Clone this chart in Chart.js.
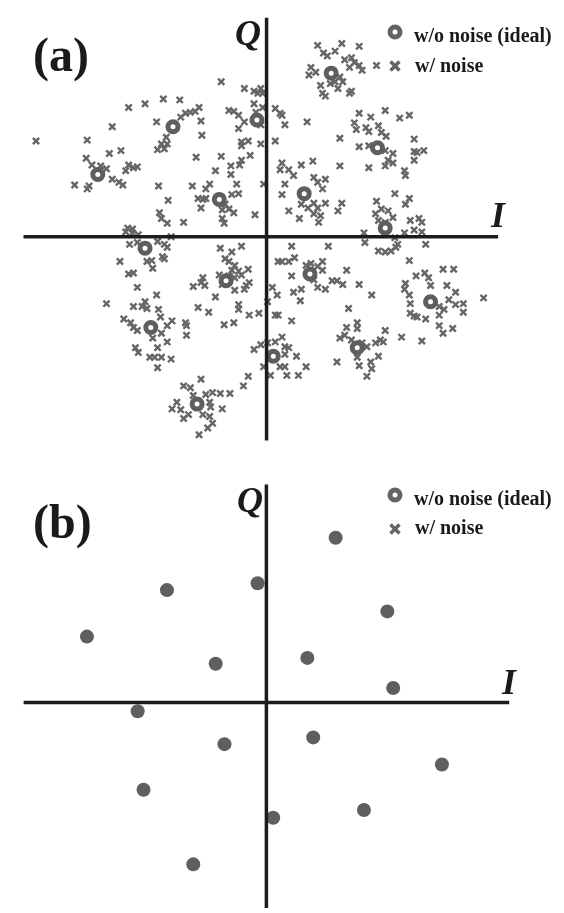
<!DOCTYPE html>
<html>
<head>
<meta charset="utf-8">
<script src="https://cdn.jsdelivr.net/npm/chart.js@4.4.1/dist/chart.umd.min.js"></script>
<style>
html,body{margin:0;padding:0;background:#fff;}
#page{position:relative;width:564px;height:913px;overflow:hidden;}
.panel{position:absolute;left:0;width:564px;}
.txt{position:absolute;font-family:"Liberation Serif","Times New Roman",serif;font-weight:bold;color:#1a1a1a;line-height:1;white-space:nowrap;}
.big{font-size:48px;}
.ax{font-size:36px;font-style:italic;}
.leg{font-size:20px;}
</style>
</head>
<body>
<div id="page">
<div class="panel" style="top:0;height:460px;"><canvas id="chartA" width="564" height="460"></canvas></div>
<div class="panel" style="top:460px;height:453px;"><canvas id="chartB" width="564" height="453"></canvas></div>

<div class="txt big" style="left:33px;top:31px;">(a)</div>
<div class="txt ax" style="left:235px;top:15px;">Q</div>
<div class="txt ax" style="left:491px;top:197px;">I</div>
<div class="txt leg" style="left:414px;top:25px;">w/o noise (ideal)</div>
<div class="txt leg" style="left:415px;top:55px;">w/ noise</div>

<div class="txt big" style="left:33px;top:498px;">(b)</div>
<div class="txt ax" style="left:237px;top:482px;">Q</div>
<div class="txt ax" style="left:502px;top:664px;">I</div>
<div class="txt leg" style="left:414px;top:488px;">w/o noise (ideal)</div>
<div class="txt leg" style="left:415px;top:517px;">w/ noise</div>
</div>

<script>
// ---- data: [I, Q] pairs ----

// (a) ideal constellation points
const idealA = [
[0.67,1.71],[-0.97,1.15],[-0.10,1.22],[1.15,0.93],
[-1.75,0.65],[-0.49,0.39],[0.39,0.45],[1.23,0.09],
[-1.26,-0.12],[-0.42,-0.46],[0.45,-0.39],[1.70,-0.68],
[-1.20,-0.95],[0.07,-1.25],[0.94,-1.16],[-0.72,-1.75]
];

// (a) received points with noise
const noisyA = [
[-0.47,1.62],[-0.23,1.55],[-0.13,1.52],[-0.09,1.50],[-0.04,1.50],[-0.06,1.55],
[-1.43,1.35],[-1.26,1.39],[-1.07,1.44],[-0.90,1.43],[-0.70,1.35],[-0.74,1.31],
[-0.79,1.30],[-0.84,1.29],[-0.89,1.25],[-0.68,1.21],[-0.67,1.06],[-1.14,1.20],
[-1.60,1.15],[-0.39,1.32],[-0.34,1.31],[-0.29,1.27],[-0.13,1.39],[-0.11,1.30],
[-0.04,1.35],[-0.23,1.20],[-0.29,1.13],[-0.06,1.17],[0.09,1.34],[0.14,1.29],
[0.09,1.00],[-2.39,1.00],[-1.86,1.01],[-1.63,0.87],[-1.51,0.90],[-1.04,1.04],
[-1.03,0.97],[-1.09,0.97],[-1.13,0.91],[-1.06,0.92],[-0.26,0.99],[-0.19,1.00],
[-0.26,0.95],[-0.06,0.97],[-0.73,0.83],[-0.47,0.84],[-0.17,0.85],[-0.26,0.80],
[-0.28,0.75],[-0.37,0.74],[-0.37,0.65],[-0.53,0.69],[-1.87,0.82],[-1.81,0.75],
[-1.72,0.74],[-1.66,0.71],[-1.43,0.75],[-1.38,0.72],[-1.34,0.73],[-1.46,0.69],
[-1.60,0.60],[-1.53,0.57],[-1.49,0.54],[-1.99,0.54],[-1.84,0.53],[-1.86,0.50],
[-1.12,0.53],[-0.77,0.53],[-0.59,0.55],[-0.63,0.50],[-0.31,0.55],[-0.29,0.45],
[-0.36,0.44],[-0.03,0.55],[-1.02,0.38],[-0.71,0.40],[-0.66,0.39],[-0.63,0.40],
[-0.68,0.30],[-0.43,0.34],[-0.39,0.29],[-0.34,0.25],[-0.46,0.28],[-0.46,0.19],
[-0.44,0.14],[-0.12,0.23],[-1.11,0.25],[-1.09,0.19],[-1.03,0.14],[-0.86,0.15],
[-1.44,0.09],[-1.39,0.08],[0.14,0.70],
[0.53,2.00],[0.59,1.92],[0.63,1.89],[0.78,2.02],[0.96,1.99],[0.71,1.94],
[0.46,1.77],[0.44,1.69],[0.51,1.72],[0.81,1.85],[0.88,1.87],[0.91,1.82],
[0.96,1.79],[0.99,1.74],[0.86,1.77],[0.76,1.67],[0.79,1.62],[0.71,1.62],
[0.66,1.60],[0.56,1.58],[0.58,1.50],[0.61,1.47],[0.74,1.55],[0.86,1.50],
[0.88,1.52],[1.14,1.79],[0.16,1.27],[0.19,1.17],[0.42,1.20],[0.96,1.29],
[1.08,1.25],[1.23,1.32],[1.38,1.24],[1.48,1.27],[0.91,1.19],[0.93,1.12],
[1.03,1.14],[1.06,1.10],[1.16,1.16],[1.19,1.09],[1.24,1.05],[0.76,1.03],
[0.96,0.94],[1.06,0.95],[1.53,1.02],[1.53,0.89],[1.56,0.88],[1.63,0.90],
[1.53,0.80],[1.23,0.90],[1.31,0.87],[1.26,0.80],[1.31,0.77],[1.23,0.74],
[1.43,0.69],[1.44,0.64],[1.06,0.72],[0.76,0.74],[0.16,0.77],[0.23,0.70],
[0.28,0.64],[0.36,0.75],[0.48,0.79],[0.49,0.62],[0.53,0.57],[0.61,0.60],
[0.19,0.55],[0.16,0.44],[0.58,0.50],[0.49,0.35],[0.53,0.30],[0.61,0.35],
[0.78,0.35],[0.74,0.27],[0.36,0.34],[0.43,0.30],[0.23,0.27],[0.34,0.19],
[0.49,0.24],[0.56,0.22],[0.54,0.15],[1.33,0.45],[1.48,0.40],[1.44,0.34],
[1.14,0.37],[1.19,0.29],[1.13,0.24],[1.26,0.27],[1.31,0.20],[1.16,0.17],
[1.23,0.15],[1.49,0.17],[1.58,0.19],[1.61,0.15],
[-1.46,0.05],[-1.39,0.04],[-1.33,0.02],[-1.42,-0.08],[-1.34,-0.06],[-1.13,-0.05],
[-1.06,-0.08],[-0.99,0.00],[-1.03,-0.11],[-1.24,-0.26],[-1.19,-0.25],[-1.18,-0.33],
[-1.08,-0.21],[-1.06,-0.23],[-1.52,-0.26],[-1.43,-0.39],[-1.38,-0.38],[-1.34,-0.53],
[-1.14,-0.61],[-1.66,-0.70],[-1.38,-0.73],[-1.29,-0.73],[-1.26,-0.68],[-1.24,-0.75],
[-1.12,-0.76],[-1.10,-0.84],[-1.48,-0.86],[-1.41,-0.90],[-1.38,-0.95],[-1.34,-0.98],
[-1.03,-0.93],[-0.98,-0.88],[-1.09,-1.01],[-1.18,-1.06],[-1.03,-1.10],[-0.84,-0.90],
[-0.83,-0.93],[-0.83,-1.03],[-1.36,-1.16],[-1.33,-1.21],[-1.13,-1.16],[-1.21,-1.26],
[-1.16,-1.26],[-1.09,-1.26],[-0.99,-1.28],[-1.13,-1.37],[-0.48,-0.12],[-0.36,-0.16],
[-0.26,-0.10],[-0.43,-0.23],[-0.39,-0.26],[-0.33,-0.30],[-0.29,-0.36],[-0.36,-0.35],
[-0.39,-0.41],[-0.33,-0.43],[-0.26,-0.40],[-0.19,-0.34],[-0.66,-0.43],[-0.68,-0.48],
[-0.76,-0.52],[-0.64,-0.51],[-0.49,-0.40],[-0.46,-0.50],[-0.33,-0.56],[-0.21,-0.51],
[-0.18,-0.48],[-0.23,-0.55],[-0.53,-0.63],[-0.71,-0.74],[-0.60,-0.79],[-0.29,-0.71],
[-0.29,-0.76],[-0.18,-0.82],[-0.08,-0.80],[-0.44,-0.92],[-0.34,-0.90],[0.12,-0.26],
[0.06,-0.53],[0.11,-0.61],[0.01,-0.68],[0.09,-0.82],[0.12,-0.82],[-0.13,-1.18],
[-0.06,-1.13],[0.01,-1.11],[0.09,-1.10],[-0.03,-1.36],[0.04,-1.45],[0.14,-1.36],
[-0.19,-1.46],[-0.24,-1.56],[-0.68,-1.49],[-0.86,-1.56],[-0.79,-1.58],[-0.76,-1.66],
[-0.93,-1.73],[-0.98,-1.80],[-0.89,-1.81],[-0.81,-1.86],[-0.86,-1.90],[-0.63,-1.65],
[-0.56,-1.63],[-0.48,-1.64],[-0.38,-1.64],[-0.59,-1.73],[-0.58,-1.78],[-0.46,-1.80],
[-0.66,-1.86],[-0.59,-1.88],[-0.56,-1.95],[-0.61,-2.00],[-0.70,-2.07],
[1.01,0.04],[1.02,-0.06],[1.16,-0.15],[1.23,-0.16],[1.29,-0.15],[1.34,-0.11],
[1.36,-0.08],[1.33,-0.01],[1.43,0.04],[1.53,0.07],[1.61,0.05],[1.65,-0.08],
[0.64,-0.10],[0.26,-0.10],[0.29,-0.22],[0.23,-0.26],[0.16,-0.26],[0.41,-0.30],
[0.46,-0.28],[0.53,-0.31],[0.58,-0.26],[0.58,-0.35],[0.26,-0.41],[0.49,-0.45],
[0.53,-0.53],[0.61,-0.55],[0.68,-0.46],[0.73,-0.46],[0.79,-0.50],[0.83,-0.35],
[0.96,-0.50],[1.09,-0.61],[0.28,-0.58],[0.36,-0.55],[0.35,-0.67],[0.85,-0.75],
[0.26,-0.88],[1.48,-0.25],[1.55,-0.41],[1.64,-0.38],[1.68,-0.43],[1.70,-0.51],
[1.83,-0.34],[1.94,-0.34],[1.44,-0.49],[1.43,-0.55],[1.48,-0.61],[1.49,-0.70],
[1.49,-0.80],[1.53,-0.83],[1.56,-0.84],[1.65,-0.86],[1.87,-0.51],[1.96,-0.58],
[1.79,-0.73],[1.84,-0.76],[1.89,-0.66],[1.96,-0.71],[2.04,-0.70],[2.04,-0.79],
[1.79,-0.82],[2.25,-0.64],[1.79,-0.93],[1.83,-1.01],[1.93,-0.96],[1.61,-1.09],
[1.40,-1.05],[0.83,-0.95],[0.94,-0.90],[0.94,-0.96],[1.23,-0.98],[0.76,-1.06],
[0.81,-1.03],[0.88,-1.08],[0.99,-1.11],[1.04,-1.15],[1.13,-1.11],[1.18,-1.08],
[1.21,-1.10],[1.16,-1.25],[1.08,-1.31],[1.09,-1.38],[1.04,-1.46],[0.96,-1.35],
[0.94,-1.26],[0.73,-1.31],[0.16,-1.05],[0.19,-1.15],[0.23,-1.16],[0.19,-1.23],
[0.31,-1.25],[0.19,-1.36],[0.21,-1.45],[0.33,-1.45],[0.41,-1.36]
];

// (b) constellation points
const pointsB = [
[-1.02,1.16],[-0.09,1.23],[-1.84,0.68],[-0.52,0.40],
[0.71,1.70],[1.24,0.94],[0.42,0.46],[1.30,0.15],
[-1.32,-0.09],[-0.43,-0.43],[-1.26,-0.90],[0.07,-1.19],
[-0.75,-1.67],[0.48,-0.36],[1.80,-0.64],[1.00,-1.11]
];

// ---- styling ----
const markGray = "#646464";
const axisColor = "#1c1c1c";

function toXY(list){
return list.map(p => ({x:p[0], y:p[1]}));
}

// I / Q axes drawn through the scale zero lines, over the marks
const iqAxes = {
id:"iqAxes",
afterDatasetsDraw(chart, args, opts){
const ctx = chart.ctx;
const sx = chart.scales.x, sy = chart.scales.y;
const x0 = sx.getPixelForValue(0), y0 = sy.getPixelForValue(0);
ctx.save();
ctx.strokeStyle = axisColor;
ctx.lineWidth = 3.5;
ctx.beginPath();
ctx.moveTo(sx.getPixelForValue(opts.iFrom), y0);
ctx.lineTo(sx.getPixelForValue(opts.iTo), y0);
ctx.moveTo(x0, sy.getPixelForValue(opts.qFrom));
ctx.lineTo(x0, sy.getPixelForValue(opts.qTo));
ctx.stroke();
ctx.restore();
}
};

// legend symbols beside the html legend text
const legendMarks = {
id:"legendMarks",
afterDraw(chart, args, opts){
const ctx = chart.ctx;
ctx.save();
ctx.strokeStyle = markGray;
// ring
ctx.lineWidth = 5;
ctx.fillStyle = "#fff";
ctx.beginPath();
ctx.arc(opts.x, opts.yRing, 5, 0, Math.PI*2);
ctx.fill();
ctx.stroke();
// cross
ctx.lineWidth = 3.5;
const d = 4.5;
ctx.beginPath();
ctx.moveTo(opts.x-d, opts.yCross-d);
ctx.lineTo(opts.x+d, opts.yCross+d);
ctx.moveTo(opts.x+d, opts.yCross-d);
ctx.lineTo(opts.x-d, opts.yCross+d);
ctx.stroke();
ctx.restore();
}
};

function baseOptions(qMax, qMin, axes, legend){
return {
responsive:false,
animation:false,
events:[],
layout:{padding:0},
plugins:{
legend:{display:false},
tooltip:{enabled:false},
iqAxes:axes,
legendMarks:legend
},
scales:{
x:{type:"linear", min:-2.66, max:2.98, display:false},
y:{type:"linear", min:qMin, max:qMax, display:false}
}
};
}


// ================= PANEL (a) =================

new Chart(document.getElementById("chartA"), {
type:"scatter",
data:{
datasets:[{
label:"w/o noise (ideal)",
data:toXY(idealA),
pointStyle:"circle",
pointRadius:5,
pointBorderWidth:5,
pointBorderColor:"#5e5e5e",
pointBackgroundColor:"#fff"
},{
label:"w/ noise",
data:toXY(noisyA),
pointStyle:"crossRot",
pointRadius:4.4,
pointBorderWidth:2.4,
pointBorderColor:"#666666",
pointBackgroundColor:"#666666"
}]
},
options:baseOptions(2.37, -2.23,
{iFrom:-2.52, iTo:2.40, qFrom:2.29, qTo:-2.13},
{x:395, yRing:32, yCross:66}),
plugins:[iqAxes, legendMarks]
});


// ================= PANEL (b) =================

new Chart(document.getElementById("chartB"), {
type:"scatter",
data:{
datasets:[{
label:"constellation",
data:toXY(pointsB),
pointStyle:"circle",
pointRadius:7,
pointBorderWidth:0,
pointBackgroundColor:"#5f5f5f"
}]
},
options:baseOptions(2.43, -2.10,
{iFrom:-2.49, iTo:2.49, qFrom:2.25, qTo:-2.12},
{x:395, yRing:35, yCross:69}),
plugins:[iqAxes, legendMarks]
});
</script>
</body>
</html>
